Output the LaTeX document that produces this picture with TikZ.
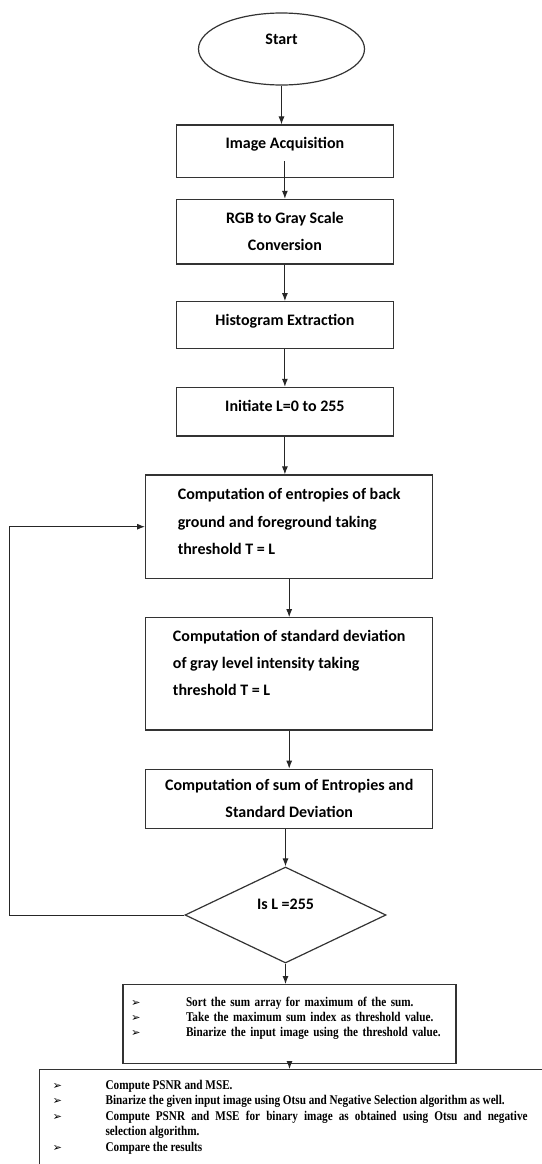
\documentclass[tikz,border=0pt]{standalone}
\usepackage{fontspec}
\setmainfont{Carlito}
\newfontfamily\listfont{Liberation Serif}[FakeStretch=0.84]
\newfontfamily\bulfont{DejaVu Sans}
\usetikzlibrary{shapes.geometric,arrows.meta}

\newcommand\padbelow[1]{\rule[-#1]{0pt}{#1}}
\newcommand\bul{{\bulfont\fontsize{8.5}{8.5}\selectfont ➢}}
\newcommand\bitem[2]{\hangindent=#1\hangafter=1\noindent\makebox[#1][l]{\bul}#2\par}

\begin{document}
\begin{tikzpicture}[x=0.75pt,y=-0.75pt,
  >={Latex[length=6pt,width=4.5pt]},
  every node/.style={font=\bfseries\fontsize{12}{20.3}\selectfont},
  box/.style={draw=black!80,line width=0.9pt,rectangle,inner sep=2pt,align=center},
  listbox/.style={draw=black!80,line width=0.9pt,rectangle,
    font=\listfont\bfseries\fontsize{10}{11.6}\selectfont},
  line/.style={draw=black!85,line width=0.75pt}]
  \useasboundingbox (0,0) rectangle (542,1164);

  \node[box,ellipse,minimum width=124.5pt,minimum height=54pt] (start) at (281.5,49) {Start\padbelow{14pt}};
  \node[box,minimum width=163.2pt,minimum height=39.2pt] (acq) at (284.9,151.2) {Image Acquisition\padbelow{12.3pt}};
  \node[box,minimum width=163.2pt,minimum height=48.5pt] (gray) at (284.9,231.7) {RGB to Gray Scale\\Conversion};
  \node[box,minimum width=163.2pt,minimum height=35.3pt] (hist) at (284.9,325.2) {Histogram Extraction\padbelow{8.3pt}};
  \node[box,minimum width=163.2pt,minimum height=36.5pt] (init) at (284.9,411.7) {Initiate L=0 to 255\padbelow{8pt}};
  \node[box,align=left,minimum width=215.3pt,minimum height=77.5pt] (entr) at (289.2,526.7)
    {Computation of entropies of back\\ground and foreground taking\\threshold T = L\padbelow{8pt}};
  \node[box,align=left,minimum width=215.3pt,minimum height=84.2pt] (sdev) at (289.2,673.9)
    {Computation of standard deviation\\of gray level intensity taking\\threshold T = L\padbelow{16.4pt}};
  \node[box,minimum width=215.3pt,minimum height=44.3pt] (sum) at (289.2,798.8)
    {Computation of sum of Entropies and\\Standard Deviation};
  \node[box,diamond,inner sep=0pt,minimum width=150.75pt,minimum height=72pt] (check) at (285.5,915)
    {Is L =255\padbelow{15.5pt}};

  % final steps
  \node[listbox,anchor=north,text width=237.75pt,inner xsep=6pt,inner ysep=9pt] (pick) at (289.5,984) {%
    \bitem{41.25pt}{Sort the sum array for maximum of the sum.}%
    \bitem{41.25pt}{Take the maximum sum index as\ threshold value.}%
    \bitem{41.25pt}{Binarize the input image using the threshold value.\padbelow{11pt}}};
  \node[listbox,anchor=north west,text width=390pt,inner xsep=9.75pt,inner ysep=8pt] (eval) at (39,1069) {%
    \rightskip=33.75pt\relax
    \spaceskip=2.1pt plus 6pt minus 0.5pt\relax
    \bitem{39.75pt}{Compute PSNR and MSE.}%
    \bitem{39.75pt}{Binarize the given input image using Otsu and Negative Selection algorithm as well.}%
    \bitem{39.75pt}{Compute PSNR and MSE for binary image as obtained using Otsu and negative\linebreak selection algorithm.}%
    \bitem{39.75pt}{Compare the results\padbelow{25pt}}};

  \draw[->,line] (start.south) -- (start.south |- acq.north);
  \draw[->,line] ([yshift=-7.4pt]acq.center) -- (gray);
  \draw[->,line] (gray) -- (hist);
  \draw[->,line] (hist) -- (init);
  \draw[->,line] (init.south) -- (init.south |- entr.north);
  \draw[->,line] (entr) -- (sdev);
  \draw[->,line] (sdev) -- (sum);
  \draw[->,line] (sum.south -| check.north) -- (check.north);
  \draw[->,line] (check.south) -- (check.south |- pick.north);
  \draw[->,line] (pick.south) -- (pick.south |- eval.north);
  \draw[->,line] (check.west) -- ++(-174.6,0) |- (entr.west);
\end{tikzpicture}
\end{document}
